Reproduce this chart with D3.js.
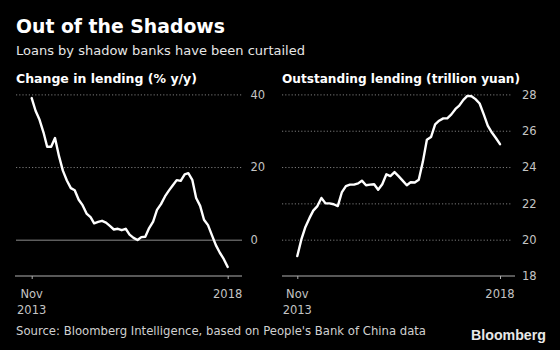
<!DOCTYPE html>
<html><head><meta charset="utf-8">
<script src="https://cdn.jsdelivr.net/npm/d3@7"></script>
<style>html,body{margin:0;padding:0;background:#000;}svg{display:block;}</style>
</head><body>
<svg id="c" width="560" height="350"></svg>
<script>
// ---- data ----
const startMonth = "2013-11";
const changeInLending = [39.0,35.5,33.0,29.5,25.6,25.6,28.0,23.0,19.0,16.3,14.2,13.6,11.0,9.5,7.2,6.2,4.5,4.9,5.2,4.7,3.8,2.8,3.0,2.6,3.0,1.4,0.5,-0.1,0.7,0.8,3.2,5.0,8.2,9.8,11.9,13.5,15.0,16.4,16.2,18.0,18.3,16.5,11.5,9.3,5.5,4.0,1.2,-1.5,-3.6,-5.3,-7.5];
const outstandingLending = [19.1,20.0,20.7,21.2,21.6,21.85,22.3,22.0,22.0,21.95,21.85,22.6,22.95,23.03,23.03,23.1,23.25,23.0,23.03,23.05,22.75,23.05,23.6,23.5,23.72,23.5,23.25,23.0,23.16,23.15,23.3,24.3,25.5,25.65,26.35,26.55,26.68,26.68,26.9,27.2,27.38,27.7,27.92,27.9,27.74,27.5,26.9,26.28,25.9,25.6,25.26];
const leftTicks = [0,20,40];
const rightTicks = [18,20,22,24,26,28];
const xTickDates = ["2013-11-01","2018-01-01"];
const xTickLabels = [["Nov","2013"],["2018"]];
const title = "Out of the Shadows";
const subtitle = "Loans by shadow banks have been curtailed";
const leftTitle = "Change in lending (% y/y)";
const rightTitle = "Outstanding lending (trillion yuan)";
const source = "Source: Bloomberg Intelligence, based on People's Bank of China data";

const svg = d3.select("#c");
const parse = d3.timeParse("%Y-%m");
const t0 = parse(startMonth);
const dates = changeInLending.map((_, i) => d3.timeMonth.offset(t0, i));
const FONT = "'DejaVu Sans', sans-serif";

function fit(sel, target) {
  const node = sel.node();
  let fs = parseFloat(sel.attr("font-size"));
  for (let k = 0; k < 3; k++) {
    const w = node.getComputedTextLength();
    if (!w) break;
    fs = fs * target / w;
    sel.attr("font-size", fs);
  }
  return sel;
}

svg.append("rect").attr("width",560).attr("height",350).attr("fill","#000");

fit(svg.append("text").attr("x",16).attr("y",33.3).attr("font-family",FONT).attr("font-weight","bold")
  .attr("font-size",18.5).attr("fill","#fff").text(title), 209);
fit(svg.append("text").attr("x",16).attr("y",55).attr("font-family",FONT)
  .attr("font-size",13.5).attr("fill","#e6e6e6").text(subtitle), 289);

function panel(cfg) {
  const g = svg.append("g");
  const x = d3.scaleTime().domain(xTickDates.map(d => new Date(d))).range(cfg.xr);
  const y = d3.scaleLinear().domain(cfg.yd).range([276, 94.4]);
  fit(g.append("text").attr("x",cfg.gx[0]).attr("y",83).attr("font-family",FONT).attr("font-weight","bold")
    .attr("font-size",13).attr("fill","#fff").text(cfg.title), cfg.titleW);
  // grid
  const grid = d3.axisRight(y).tickValues(cfg.ticks).tickSize(cfg.gx[1]-cfg.gx[0]).tickFormat(d3.format("d"));
  const ga = g.append("g").attr("transform",`translate(${cfg.gx[0]},0)`).call(grid);
  ga.select(".domain").remove();
  ga.selectAll(".tick line")
    .attr("stroke", d => d === 0 ? "#8a8a8a" : "#7a7a7a")
    .attr("stroke-width", 1)
    .attr("stroke-dasharray", d => (d === 0 || d === cfg.yd[0]) ? null : "1.2,2");
  ga.selectAll(".tick").filter(d => d === cfg.yd[0]).select("line").remove();
  ga.selectAll(".tick text").attr("x", cfg.labelX - cfg.gx[0]).attr("dy","0.32em")
    .attr("font-family",FONT).attr("font-size",11.5).attr("fill","#c4c4c4").attr("text-anchor","start");
  // x axis
  const xa = g.append("g").attr("transform","translate(0,276)");
  xa.append("line").attr("x1",cfg.ax[0]).attr("x2",cfg.ax[1]).attr("stroke","#b0b0b0").attr("stroke-width",1);
  const xt = d3.axisBottom(x).tickValues(xTickDates.map(d => new Date(d))).tickSize(3).tickFormat("");
  const xg = xa.append("g").call(xt);
  xg.select(".domain").remove();
  xg.selectAll(".tick line").attr("stroke","#b0b0b0");
  xTickDates.forEach((d, i) => {
    const tx = xa.append("text").attr("x", x(new Date(d))).attr("text-anchor","middle")
      .attr("font-family",FONT).attr("font-size",11.5).attr("fill","#c4c4c4");
    xTickLabels[i].forEach((s, j) => tx.append("tspan").attr("x", x(new Date(d))).attr("y", 22.3 + j*16).text(s));
  });
  // line
  const line = d3.line().x((d,i) => x(dates[i])).y(d => y(d)).curve(d3.curveLinear);
  g.append("path").datum(cfg.data).attr("d", line).attr("fill","none").attr("stroke","#fff")
    .attr("stroke-width",2.4).attr("stroke-linejoin","round").attr("stroke-linecap","round");
}

panel({data: changeInLending, yd:[-10,40], ticks: leftTicks, xr:[31.7,227.7], gx:[16,242], ax:[15,242],
  labelX: 250.5, title: leftTitle, titleW: 181});
panel({data: outstandingLending, yd:[18,28], ticks: rightTicks, xr:[297.3,500], gx:[282,512], ax:[282,515],
  labelX: 522, title: rightTitle, titleW: 238});

// bottom 18 label for right axis already via ticks (line removed)
fit(svg.append("text").attr("x",16).attr("y",335).attr("font-family",FONT)
  .attr("font-size",11).attr("fill","#d0d0d0").text(source), 410);
fit(svg.append("text").attr("x",471).attr("y",340).attr("font-family","'Liberation Sans', Arial, sans-serif")
  .attr("font-weight","bold").attr("font-size",14.2).attr("fill","#e8e8e8").text("Bloomberg"), 75);
</script>
</body></html>
